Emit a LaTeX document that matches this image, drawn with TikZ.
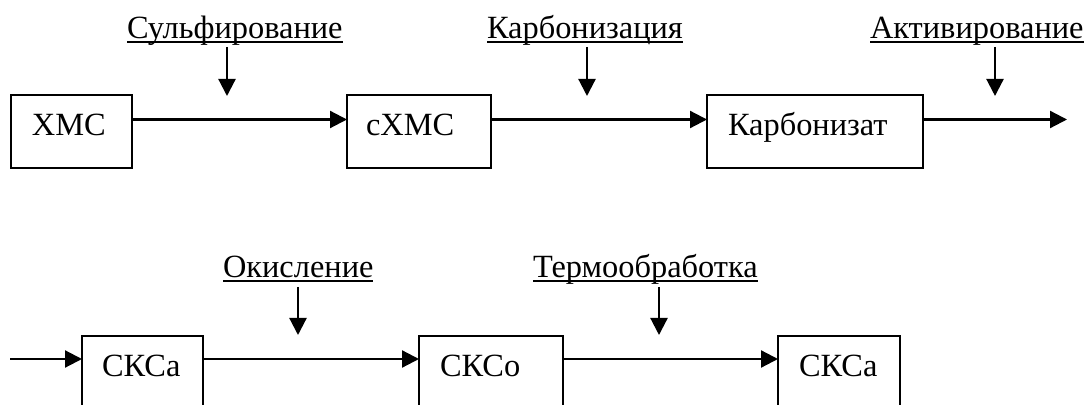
\documentclass[tikz,border=0pt]{standalone}
\usepackage{fontspec}
\setmainfont{Liberation Serif}
\usetikzlibrary{arrows.meta,calc}
\begin{document}
\begin{tikzpicture}[x=0.5pt,y=-0.5pt,
  box/.style={draw,line width=1pt,rectangle,inner sep=0pt,outer sep=0pt,minimum height=36.5pt},
  txt/.style={inner sep=0pt,outer sep=0pt,anchor=base west,font=\fontsize{16.2}{19}\selectfont},
  arr/.style={line width=1.1pt,-{Triangle[length=8.5pt,width=8.5pt]}},
  uline/.style={line width=0.7pt}]
\useasboundingbox (0,0) rectangle (1085,405);
\clip (0,0) rectangle (1085,405);
% top row boxes
\node[box,minimum width=60.5pt] (xmc) at (71.5,131.5) {};
\node[box,minimum width=72pt] (cxmc) at (419,131.5) {};
\node[box,minimum width=108pt] (karb) at (815,131.5) {};
\node[txt] (txmc) at (32,136) {ХМС};
\node[txt] (tcxmc) at (366,136) {сХМС};
\node[txt] (tkarb) at (728,136) {Карбонизат};
% top labels
\node[txt] (l1) at (127,39) {Сульфирование};
\node[txt] (l2) at (487,39) {Карбонизация};
\node[txt] (l3) at (870,39) {Активирование};
\foreach \l in {l1,l2,l3}{\draw[uline] ($(\l.base west)+(0,3)$) -- ($(\l.base east)+(0,3)$);}
\coordinate (s1) at (227,47); \coordinate (e1) at (227,96);
\coordinate (s2) at (587,47); \coordinate (e2) at (587,96);
\coordinate (s3) at (995,47); \coordinate (e3) at (995,96);
\draw[arr] (s1) -- (e1);
\draw[arr] (s2) -- (e2);
\draw[arr] (s3) -- (e3);
\coordinate (out) at (1067,119.5);
\draw[arr] ($(xmc.north east)+(0,24.5)$) -- ($(cxmc.north west)+(0,24.5)$);
\draw[arr] ($(cxmc.north east)+(0,24.5)$) -- ($(karb.north west)+(0,24.5)$);
\draw[arr] ($(karb.north east)+(0,24.5)$) -- (out);
% bottom row boxes
\node[box,minimum width=60.5pt] (skca1) at (142.5,372.5) {};
\node[box,minimum width=72pt] (skco) at (491,372.5) {};
\node[box,minimum width=61pt] (skca2) at (839,372.5) {};
\node[txt] (tskca1) at (102,376) {СКСа};
\node[txt] (tskco) at (440,376) {СКСо};
\node[txt] (tskca2) at (799,376) {СКСа};
% bottom labels
\node[txt] (l4) at (223,278) {Окисление};
\node[txt] (l5) at (533,278) {Термообработка};
\foreach \l in {l4,l5}{\draw[uline] ($(\l.base west)+(0,3)$) -- ($(\l.base east)+(0,3)$);}
\coordinate (s4) at (298,287); \coordinate (e4) at (298,335);
\coordinate (s5) at (659,287); \coordinate (e5) at (659,335);
\draw[arr] (s4) -- (e4);
\draw[arr] (s5) -- (e5);
\coordinate (in) at (10,359);
\draw[arr] (in) -- ($(skca1.north west)+(0,23)$);
\draw[arr] ($(skca1.north east)+(0,23)$) -- ($(skco.north west)+(0,23)$);
\draw[arr] ($(skco.north east)+(0,23)$) -- ($(skca2.north west)+(0,23)$);
\end{tikzpicture}
\end{document}
